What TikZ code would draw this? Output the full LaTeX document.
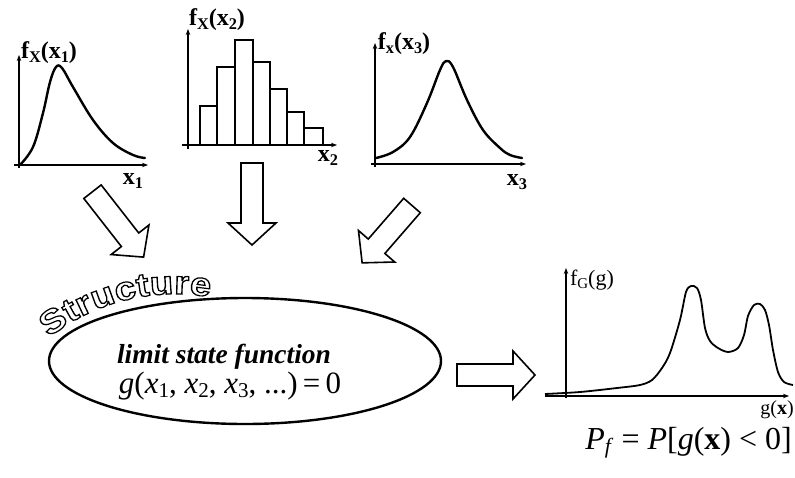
\documentclass[tikz,border=0pt]{standalone}
\usepackage{fontspec}
\setmainfont{Liberation Serif}
\newfontfamily\structfont{Liberation Sans}
\usepackage{graphicx}
\usetikzlibrary{arrows.meta,shapes.geometric,calc}
\newcommand\dn[1]{\raisebox{-0.3ex}{\scalebox{0.68}{#1}}}
\newcommand\outl[1]{\scalebox{1.15}[1]{\special{pdf:literal direct 1 Tr 1.2 w}#1\special{pdf:literal direct 0 Tr}}}
\tikzset{
  axis/.style={line width=1.2pt,-{Stealth[length=6pt,width=4.5pt]}},
  curve/.style={line width=2.4pt,line join=round,line cap=round},
  barbox/.style={line width=1.5pt},
  blk/.style={line width=1.6pt,fill=white,line join=miter},
  lbl/.style={inner sep=0pt,font=\fontsize{24}{26}\selectfont\bfseries},
  stl/.style={inner sep=0pt,anchor=base,font=\fontsize{33}{35}\selectfont\structfont\bfseries},
  pics/blockarr/.style={code={\draw[blk] (-11,0)--(11,0)--(11,{#1-22})--(24,{#1-22})--(0,#1)--(-24,{#1-22})--(-11,{#1-22})--cycle;}}
}
\begin{document}
\begin{tikzpicture}[x=1pt,y=-1pt]
\useasboundingbox (0,0) rectangle (795,477);

% ---- plot 1
\coordinate (p1xs) at (14,165); \coordinate (p1xe) at (148,165);
\coordinate (p1ys) at (19,168); \coordinate (p1ye) at (19,55);
\draw[axis] (p1xs) -- (p1xe);
\draw[axis] (p1ys) -- (p1ye);
\draw[curve] plot[smooth,tension=0.6] coordinates {(20,165) (33,147) (43,113) (50,82) (56,67) (62,68) (73,87) (93,120) (113,143) (133,155) (145,158)};
\node[lbl] (f1) at (49,53) {f\dn{X}(x\dn{1})};
\node[lbl] (x1) at (133,181) {x\dn{1}};

% ---- plot 2 (histogram)
\coordinate (p2xs) at (182,145); \coordinate (p2xe) at (337,145);
\coordinate (p2ys) at (188,149); \coordinate (p2ye) at (188,29);
\foreach \a/\b/\t in {200/217/106, 217/235/67, 235/253/40, 253/270/62, 270/287/89, 287/304/112, 304/323/128}
  \draw[barbox] (\a,145) rectangle (\b,\t);
\draw[axis] (p2xs) -- (p2xe);
\draw[axis] (p2ys) -- (p2ye);
\node[lbl] (f2) at (217,20) {f\dn{X}(x\dn{2})};
\node[lbl] (x2) at (328,158) {x\dn{2}};

% ---- plot 3
\coordinate (p3xs) at (371,164); \coordinate (p3xe) at (526,164);
\coordinate (p3ys) at (375,167); \coordinate (p3ye) at (375,43);
\draw[axis] (p3xs) -- (p3xe);
\draw[axis] (p3ys) -- (p3ye);
\draw[curve] plot[smooth,tension=0.6] coordinates {(376,158) (393,152) (410,137) (427,103) (440,70) (446,61) (453,67) (467,100) (483,130) (500,148) (510,155) (522,158)};
\node[lbl] (f3) at (404,44) {f\dn{x}(x\dn{3})};
\node[lbl] (x3) at (517,182) {x\dn{3}};

% ---- block arrows
\pic[rotate=38] at (92.5,191.7) {blockarr=83};
\pic at (252,163) {blockarr=82};
\pic[rotate=-41] at (412,205.5) {blockarr=76};
\pic[rotate=90] at (457,375) {blockarr=78};

% ---- structure ellipse
\node[ellipse,draw,line width=2.4pt,minimum width=392pt,minimum height=126pt] (lsf) at (245,361) {};
\node[inner sep=0pt,font=\fontsize{27.5}{29}\selectfont\bfseries\itshape] (lsft) at (224,357) {limit state function};
\node[inner sep=0pt,font=\fontsize{31}{33}\selectfont] (lsfe) at (230,386)
  {\textit{g}(\textit{x}\dn{1}, \textit{x}\dn{2}, \textit{x}\dn{3}, ...)\,=\,0};

% ---- "Structure" along an arc
\coordinate (sc) at (175,498);
\foreach \ch/\ang in {S/124.6, t/119.2, r/115.3, u/109.8, c/103.5, t/98.7, u/93.6, r/88.2, e/83.1}
  \node[stl,rotate=\ang-90] at ($(sc)+(-\ang:204)$) {\outl{\ch}};

% ---- result plot
\coordinate (p4xs) at (545,396); \coordinate (p4xe) at (789,396);
\coordinate (p4ys) at (566,398); \coordinate (p4ye) at (566,268);
\draw[axis] (p4xs) -- (p4xe);
\draw[axis] (p4ys) -- (p4ye);
\draw[line width=1.8pt,line join=round] plot[smooth,tension=0.5] coordinates {(545,394) (580,392) (617,388) (640,385) (652,380) (662,368) (670,353) (680,320) (686,292) (691,286) (697,288) (701,300) (705,328) (710,341) (718,348) (728,352) (738,348) (744,335) (748,316) (754,305) (760,304) (765,310) (769,325) (773,350) (778,372) (784,382) (793,385)};
\node[inner sep=0pt,font=\fontsize{22}{24}\selectfont] (fg) at (592,280) {f\dn{G}(g)};
\node[inner sep=0pt,font=\fontsize{20}{22}\selectfont] (gx) at (777,410) {g(\textbf{x})};
\node[inner sep=0pt,font=\fontsize{32}{34}\selectfont,anchor=east] (pf) at (792,443)
  {\textit{P}\dn{\textit{f}} = \textit{P}[\textit{g}(\textbf{x}) < 0]};
\end{tikzpicture}
\end{document}
